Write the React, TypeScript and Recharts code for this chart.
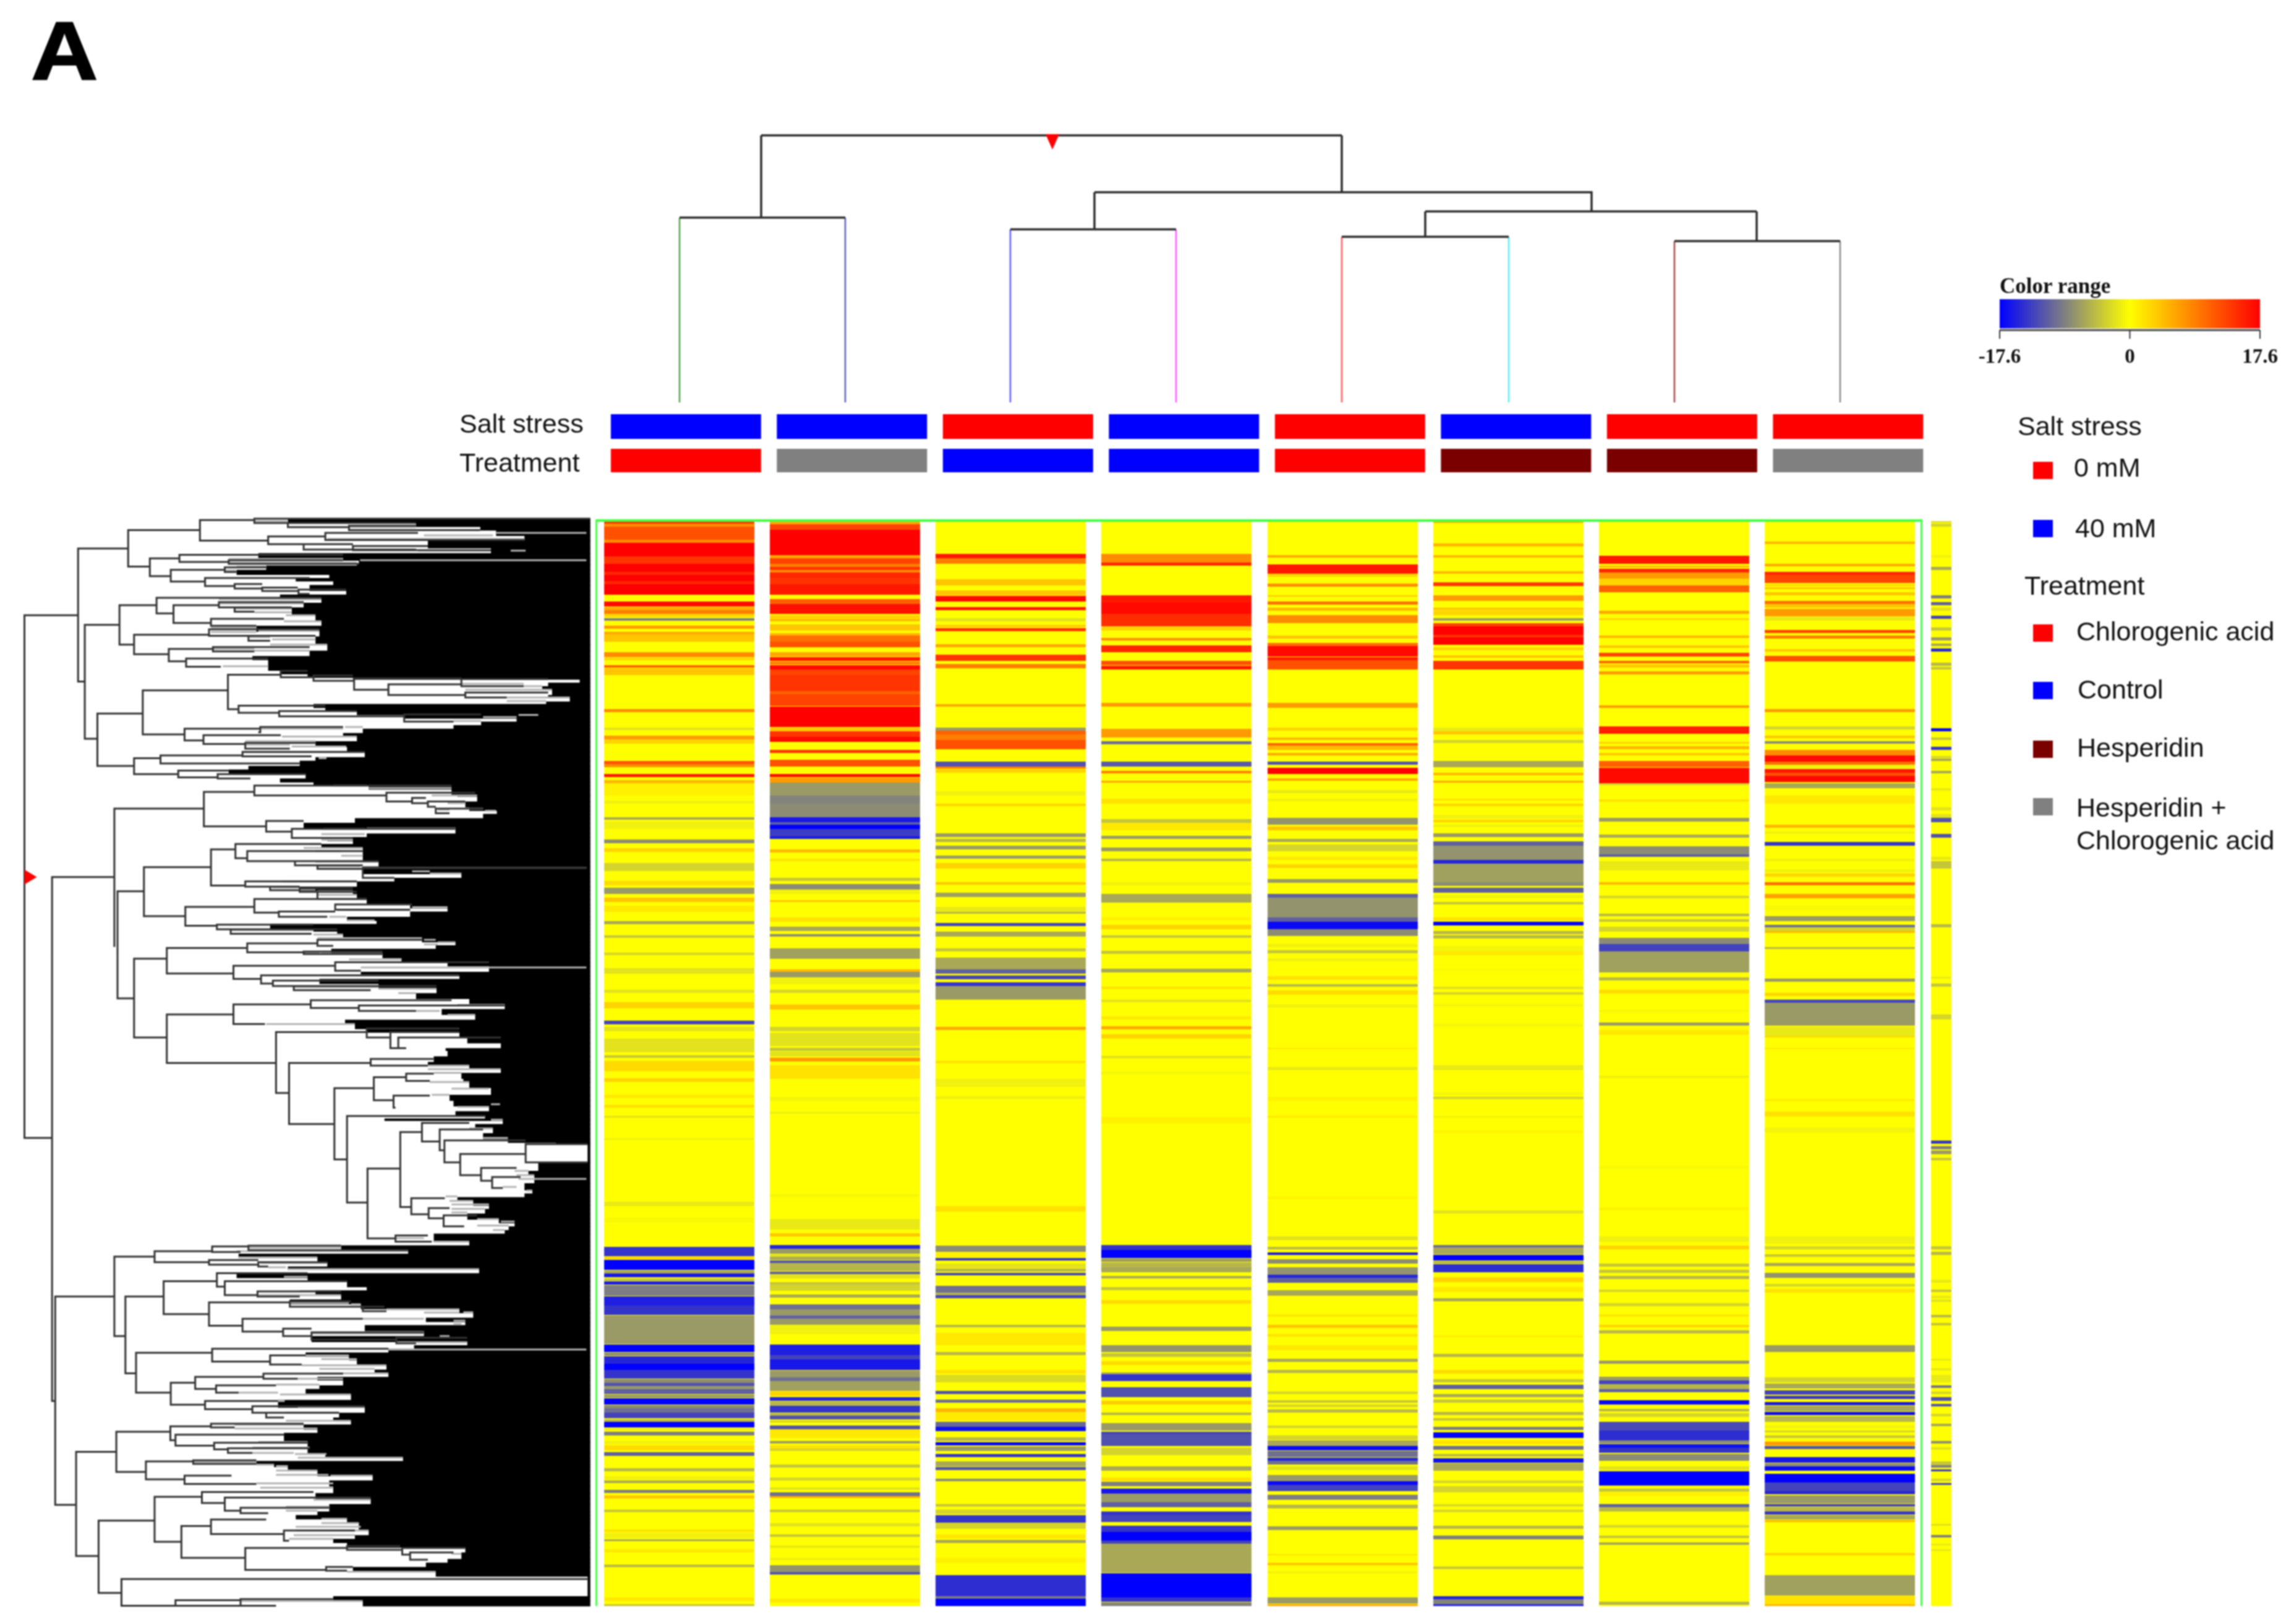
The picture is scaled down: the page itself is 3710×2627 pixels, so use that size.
import React from "react";
import { Bar, BarChart, Cell, ComposedChart, Line, LineChart, ReferenceArea, XAxis, YAxis } from "recharts";

type Band = number[];

// ---------- samples and annotation ----------
const samples = ["S1", "S2", "S3", "S4", "S5", "S6", "S7", "S8"];
const saltStress = ["40 mM", "40 mM", "0 mM", "40 mM", "0 mM", "40 mM", "0 mM", "0 mM"];
const treatment = ["Chlorogenic acid", "Hesperidin + Chlorogenic acid", "Control", "Control", "Chlorogenic acid", "Hesperidin", "Hesperidin", "Hesperidin + Chlorogenic acid"];
const saltLevels = ["0 mM", "40 mM"];
const treatmentLevels = ["Chlorogenic acid", "Control", "Hesperidin", "Hesperidin + Chlorogenic acid"];
const levelColor: Record<string, string> = { "0 mM": "#ff0000", "40 mM": "#0000ff", "Chlorogenic acid": "#ff0000", Control: "#0000ff", Hesperidin: "#7a0000", "Hesperidin + Chlorogenic acid": "#808080" };
const colorTicks = [-17.6, 0, 17.6];
const colorStops: [number, number[]][] = [[-17.6, [0, 0, 255]], [-8.8, [128, 128, 128]], [0, [255, 255, 0]], [17.6, [255, 0, 0]]];

// ---------- heat map bands: [first row, last row, value]; rows read per picture section ----------
const c1Top = [[68,82,14],[82,95,8],[95,160,12],[160,175,8],[175,240,17.6],[240,275,14],[275,315,17.6],[315,330,15],[330,360,17.6],[360,375,15],[375,425,17.6],[458,482,17],[485,500,6],[500,520,9],[520,535,3],[540,553,-9],[575,590,7],[605,618,6],[618,655,4],[705,728,8],[733,745,3],[768,780,11],[782,815,4],[980,995,8],[1072,1084,-2],[1110,1128,7],[1128,1148,3],[1232,1248,12],[1248,1264,8],[1295,1312,16],[1325,1340,5],[1340,1400,1],[1425,1440,-1]];
const c2Top = [[68,85,6],[85,112,13],[112,235,17.6],[235,250,6],[250,275,13],[275,290,9],[290,305,14],[305,318,8],[318,345,15],[345,375,14],[375,425,16],[448,470,11],[470,518,16.5],[525,545,3],[545,555,5],[570,600,4],[612,625,5],[625,655,10],[655,682,12],[705,725,6],[730,748,16],[750,765,9],[768,790,17],[790,815,13],[815,895,14],[895,910,11],[910,965,13],[968,1068,17.6],[1072,1090,4],[1090,1115,14],[1115,1140,17],[1178,1195,14],[1228,1260,12],[1295,1310,17],[1315,1338,7],[1338,1400,-7],[1400,1440,-8.5]];
const c3Top = [[228,248,16],[248,275,9],[350,382,4],[405,430,4],[432,458,17],[485,502,16],[540,555,-2],[572,582,4],[588,602,14],[665,682,6],[718,748,14],[762,782,9],[958,970,6],[1072,1085,-7],[1085,1105,11],[1105,1130,9],[1130,1175,12],[1235,1260,-12],[1260,1270,9],[1270,1290,3],[1380,1400,-1]];
const c4Top = [[228,270,8],[270,285,15],[428,465,16],[465,520,17],[520,578,14.5],[580,600,3],[635,648,8],[672,705,15],[748,768,12],[772,788,16],[950,968,7],[1078,1118,7],[1138,1152,-10],[1235,1260,-11.5],[1280,1293,9],[1328,1338,6],[1415,1440,2]];
const c5Top = [[235,247,6],[280,325,16],[325,340,3],[372,388,8],[428,436,4],[460,475,10],[490,505,5],[525,565,8],[625,638,4],[660,675,10],[675,725,17],[730,745,16],[745,790,12],[950,975,7],[1072,1085,3],[1118,1130,5],[1145,1158,11],[1158,1180,5],[1195,1207,6],[1235,1252,-12],[1265,1295,17.6],[1318,1330,6],[1375,1390,-1.5],[1415,1428,-1]];
const c6Top = [[69,78,5],[178,192,5],[235,247,5],[312,325,5],[365,385,14],[428,455,7],[490,502,4],[505,525,3],[540,553,-7],[565,580,13],[580,620,17.5],[620,632,14],[632,670,17.6],[680,695,3],[720,732,4],[748,790,14],[1072,1090,-1.5],[1090,1103,4],[1130,1147,-3],[1232,1262,-6],[1290,1303,5],[1328,1338,6],[1415,1425,2]];
const c7Top = [[238,275,16],[285,295,5],[300,318,15],[318,348,7],[348,380,3],[382,415,11],[505,518,6],[540,550,3],[625,637,5],[672,684,4],[708,725,13],[748,760,11],[765,780,4],[798,812,7],[962,976,7],[1065,1100,15.5],[1140,1150,3],[1160,1175,5],[1195,1205,4],[1232,1262,11],[1265,1340,17],[1340,1350,-3],[1420,1432,2]];
const c8Top = [[168,180,5],[275,287,6],[315,330,15],[330,370,13],[375,385,3],[390,400,4],[415,430,4],[455,470,10],[470,490,4],[495,530,7],[535,552,-1.5],[597,612,13],[625,638,9],[690,702,4],[722,750,12],[980,995,7],[1065,1080,-3],[1110,1122,4],[1138,1150,-8],[1180,1205,8],[1205,1235,17],[1235,1250,10],[1250,1270,-1],[1272,1290,16],[1290,1305,12],[1305,1335,17],[1340,1365,-6],[1400,1440,1.5]];
const c9Top = [[69,75,-3],[80,95,-3],[235,247,-1],[290,305,-6],[428,443,-9],[462,476,-11],[490,503,-2],[528,543,-13],[585,600,-4],[632,647,-7],[663,676,-6],[688,703,-15],[757,770,-5],[778,790,-4],[1075,1090,-17],[1118,1130,-4],[1165,1178,-14],[1210,1218,-3],[1222,1233,-6],[1280,1292,-6],[1365,1378,-1.5]];

const c1Mid = [[47,55,-6],[60,85,-1],[122,133,-8],[150,162,3],[200,228,-3],[262,275,2.5],[285,305,-7],[318,332,4],[345,365,1.5],[398,407,-6],[445,453,-4],[503,512,-3],[555,575,-2],[630,640,-2],[670,692,3],[733,747,-13],[755,770,-2],[795,840,-2],[850,860,-4],[870,905,2.5],[928,940,3],[985,995,1.5],[1018,1028,2],[1055,1062,-2],[1130,1138,-1],[1345,1360,-1.5],[1400,1415,-0.5]];
const c2Mid = [[0,45,-8],[45,62,-16],[62,72,-11],[72,85,-17.6],[85,110,-13.5],[110,120,-16],[155,165,5],[185,195,2],[250,262,-4],[272,290,-8],[292,305,-1],[325,332,4],[385,400,2],[415,430,-6],[440,450,-8],[490,525,-6.5],[560,568,5],[568,588,-7],[590,610,-1],[630,640,-3],[680,695,4],[755,770,-3],[775,820,-2],[825,835,-4],[838,855,-2],[860,872,7],[885,930,2],[990,1005,-0.7],[1040,1050,-1],[1320,1330,-0.6],[1405,1440,-1.5],[1452,1462,4]];
const c3Mid = [[0,8,3],[100,112,-7],[120,130,-5],[142,155,-7],[175,187,-7],[200,220,3],[265,273,4],[300,315,-6.5],[350,365,-1.5],[365,373,-5],[403,413,-13],[432,450,-6],[490,500,-4],[520,560,-6],[560,575,-11],[582,593,-13],[603,617,-14],[617,662,-7],[755,765,6],[870,877,2],[930,958,-1],[988,998,-1],[1360,1380,2]];
const c4Mid = [[53,65,-4],[65,90,1.5],[108,120,-7],[148,160,-7],[185,195,-5],[265,275,-1],[305,335,-6],[385,395,1],[410,425,3],[445,453,-4],[498,508,-4],[558,570,-6],[618,628,2],[662,670,-2],[720,730,1.5],[753,763,6],[780,795,3],[852,862,-2],[905,915,-0.6],[1060,1080,1]];
const c5Mid = [[48,72,-7.5],[78,90,4],[120,130,-6],[138,160,-3],[180,190,1.5],[205,218,3],[255,268,-7],[305,317,-11],[317,385,-7.5],[385,400,-11],[400,425,-17],[425,448,-8],[475,485,-1],[495,505,-4],[523,532,-1],[583,595,2],[610,618,-5],[632,645,2.5],[680,690,-1],[825,830,1.5],[890,900,-1.5],[990,1005,0.8],[1055,1062,1.5],[1330,1335,1]];
const c6Mid = [[0,8,3],[38,50,-1],[55,62,3],[72,80,-1],[100,112,-7],[128,142,-11],[142,190,-7.5],[190,203,-15],[203,265,-6.5],[265,278,-8],[285,300,-11],[310,320,-1],[332,340,-4],[385,395,2],[400,412,-17.6],[430,440,-5],[445,455,-5],[480,500,-0.7],[500,512,1.5],[560,565,-0.5],[618,626,-2],[638,645,-3],[678,686,-0.7],[745,755,-0.6],[885,900,-1.5],[975,985,-0.7],[990,1000,-3],[1055,1062,-0.8],[1105,1112,1],[1375,1385,-2]];
const c7Mid = [[48,60,-7],[105,115,-6],[145,172,-8],[172,180,-11],[195,225,-1.5],[265,273,5],[312,320,-3],[372,380,-5],[390,400,-4],[415,433,-3],[453,475,-8],[475,500,-13],[500,570,-6.5],[588,598,-5],[630,642,2.5],[698,705,-0.7],[740,750,-7],[765,782,1.5],[920,928,-1],[1225,1235,-0.4],[1365,1375,0.8]];
const c8Mid = [[72,82,5],[95,102,-1],[130,143,-14],[185,195,-1],[222,232,-1],[236,246,3],[265,275,10],[305,320,6.5],[345,360,-0.5],[380,397,-7],[410,418,-10],[418,430,-3],[430,436,5],[485,492,-5],[592,602,-7],[640,650,3],[663,672,-13],[672,750,-7],[755,785,-1.5],[785,790,3],[825,830,1.5],[1000,1005,1.5],[1040,1058,2],[1095,1112,-0.8]];
const c9Mid = [[12,22,-2],[35,48,-2],[48,62,-12],[102,115,-12],[180,190,-1.5],[195,220,-4],[408,418,-5],[585,592,-1.5],[608,618,-4],[712,730,-3],[1140,1150,-14],[1158,1168,-9],[1172,1185,-7],[1198,1206,-4]];

const c1Low = [[42,80,-14],[82,92,3],[95,135,-17.6],[138,150,-6],[150,165,-16],[170,183,-4],[183,195,-16],[197,240,-9],[243,280,-15.5],[280,318,-14],[320,435,-7],[438,468,-17.6],[470,483,-8],[485,515,-15],[515,540,-17.6],[540,575,-14],[578,592,-8],[592,605,-12],[605,617,-7],[617,638,-11],[640,652,-7],[655,680,-17.6],[682,695,-8],[695,712,-10],[712,735,-13],[740,750,-5],[750,772,-17.6],[778,785,-1],[790,805,-9],[828,840,-1],[845,865,2.5],[873,888,-11],[938,950,-5],[970,985,-1],[988,998,-6],[1025,1038,-9],[1048,1060,4],[1105,1115,-4],[1185,1195,2],[1200,1220,-1],[1225,1233,-6],[1265,1278,1.5],[1328,1338,-5],[1460,1475,1.5],[1487,1495,-4]];
const c2Low = [[35,50,-15],[50,70,-7],[72,82,-2],[82,95,-6],[97,108,-12],[108,140,-5],[143,153,-11],[153,170,-2],[185,195,-4],[195,220,-3],[235,247,-6],[275,295,-10],[295,320,-7],[320,332,-11],[332,358,-7],[360,395,-1],[438,480,-15.5],[480,498,-13],[498,540,-16],[543,570,-7],[570,585,-10],[585,625,-6.5],[628,645,3],[650,665,-15],[668,685,-5],[685,712,-14],[715,725,-5],[725,740,-12],[745,752,-3],[765,780,-12],[780,815,1.5],[828,838,-7],[845,857,2],[858,868,-3],[922,935,-4],[975,988,-3],[1015,1025,-2],[1035,1050,-10],[1050,1058,6],[1105,1115,-4],[1160,1172,-2],[1205,1215,-4],[1250,1260,-1.5],[1300,1310,-1],[1330,1358,-7.5],[1358,1368,-12],[1465,1480,1.5]];
const c3Low = [[38,62,-8],[65,85,1],[88,98,-14],[110,128,-2],[130,143,-5],[148,157,-13],[200,228,-10],[228,238,-5],[238,250,-13],[358,368,-5],[390,440,1.5],[468,480,-5],[540,555,2],[560,590,-2.5],[625,638,-12],[660,672,-10],[695,710,5],[710,745,1.5],[750,770,-10.5],[770,787,-16.5],[812,828,-5],[832,846,-17.6],[850,868,-7],[880,892,-14],[910,930,-6],[933,945,-12],[980,990,-8],[1082,1092,-4],[1105,1122,-3],[1128,1158,-14],[1158,1182,-3],[1205,1222,1.5],[1228,1240,-6],[1300,1320,1],[1370,1455,-14.5],[1455,1465,-9],[1465,1495,-17.6]];
const c4Low = [[35,55,-14],[55,88,-17.6],[90,102,-7],[105,125,-5],[125,145,-6],[160,170,-6],[205,218,-4],[258,272,2.5],[365,382,-7],[440,468,-7.5],[472,488,-4],[505,520,2.5],[550,558,-6],[558,585,-14],[610,650,-12],[665,680,3.5],[712,722,-5],[755,785,-7],[790,800,-13],[800,848,-12],[855,885,-3],[930,948,-6],[975,990,2],[993,1010,-9],[1020,1040,-16],[1040,1075,-7],[1075,1095,-11],[1112,1128,-14],[1128,1155,-13],[1170,1195,-14],[1195,1230,-17.6],[1230,1243,-13],[1243,1360,-6],[1362,1460,-17.6],[1460,1478,-14],[1480,1495,-8.5]];
const c5Low = [[0,15,-2],[42,52,-5],[65,75,-16],[92,110,-8],[125,155,-7.5],[155,168,-15],[168,187,-11],[217,240,-6],[315,325,1.5],[358,370,4],[395,405,2],[440,460,1.5],[495,508,-6],[540,552,-5],[628,638,-3],[662,672,-4],[680,690,-3],[700,712,-5],[765,776,-3],[805,822,-3],[825,848,-6],[848,865,-17],[868,893,-10],[895,908,-15],[908,922,-10],[930,945,-2],[965,990,-7],[990,1004,-17],[1004,1030,-13],[1045,1065,-9],[1085,1100,-5],[1172,1187,-7],[1285,1290,2],[1320,1330,4],[1355,1362,-1],[1460,1485,-7],[1488,1495,6]];
const c6Low = [[35,45,-10],[45,72,-6],[75,97,-17.6],[100,110,-5],[113,145,-14.5],[165,185,3],[205,225,1.5],[250,263,-6],[400,410,1],[475,487,-5],[540,555,2.5],[578,590,-4],[600,617,-11],[637,650,-6],[660,672,-4],[710,722,-5],[735,745,-4],[770,782,-9],[792,815,-17.5],[825,840,2],[848,862,-10],[880,890,-5],[897,915,-16.5],[918,948,-6],[988,998,-3],[1010,1035,-3],[1082,1092,-2.5],[1105,1115,-3],[1170,1182,-5],[1210,1224,-9],[1335,1345,-4],[1455,1468,-15],[1468,1488,-8.5],[1488,1495,-15]];
const c7Low = [[0,22,-1],[38,52,3],[110,122,-4],[135,147,-4],[160,172,-5],[215,225,-3],[270,282,-3],[315,325,1.5],[358,368,3],[380,392,-5],[502,516,-7],[568,582,-7],[582,597,-13],[597,617,-5],[617,630,-11],[663,680,-17],[697,708,-5],[715,730,-3],[750,785,-12.5],[785,825,-14.5],[825,838,-8],[840,855,-16.5],[855,875,-14],[880,908,-8],[930,945,-2],[950,1008,-17.6],[1020,1033,-4],[1035,1050,1],[1083,1095,-11],[1095,1112,-5],[1168,1178,-3],[1210,1220,-4],[1237,1247,-6],[1478,1490,-5]];
const c8Low = [[0,30,-1],[40,52,-3],[72,82,-4],[107,120,-6],[148,168,-7.5],[192,202,-3],[212,228,2],[440,467,-7],[570,590,-3],[595,615,-6],[622,640,-13],[645,658,-14],[670,682,-16],[685,707,-6],[710,722,-17],[728,750,-5],[765,775,-1],[785,792,-3],[805,815,-4],[830,845,7],[848,860,-12],[892,915,-16],[918,930,-8],[930,947,-17],[960,995,-17.6],[995,1030,-13],[1030,1043,-15],[1047,1080,-7],[1082,1093,-13],[1095,1112,-5],[1113,1125,-14],[1127,1145,-6],[1148,1155,5],[1280,1290,3],[1370,1452,-6.5],[1455,1488,2],[1488,1495,5]];
const c9Low = [[40,52,-4],[63,75,-5],[175,187,-1.5],[215,225,-4],[240,250,-1.5],[255,265,-2],[318,328,-5],[350,360,-4],[495,503,-1.5],[533,543,-1.5],[560,590,-1.5],[603,613,-10],[628,638,-3],[650,664,-12],[677,687,-12],[718,728,-3],[757,767,-6],[828,838,-8],[852,862,-2],[910,925,-4],[925,935,-9],[942,950,-14],[980,990,-3],[997,1005,-13],[1163,1170,-2],[1208,1218,-9],[1242,1250,-1.5],[1265,1273,-1.5]];

// ---------- column dendrogram: [stem, top, bottom, left end, right end] ----------
const colLinks = [[1231,219,352,1099,1367],[1770,311,371,1634,1902],[2305,342,383,2170,2440],[2841,342,390,2708,2976]];
const colTop = [[1231,219],[2170,219]];
const colSpan = [[2170,219,311],[1770,311,311],[2574,311,342],[2305,342,342],[2841,342,342]];
const colLeaves: [number, number, string][] = [[1099,352,"#4f9f4f"],[1367,352,"#5c5cc0"],[1634,371,"#5c5cff"],[1902,371,"#ff55ff"],[2170,383,"#ff5c5c"],[2440,383,"#55eeee"],[2708,390,"#a54545"],[2976,390,"#8a8a8a"]];

// ---------- row dendrogram, upper and lower part: [stem, top, bottom, top end, bottom end] ----------
const rowTreeA = [[62,340,1568,198,62],[132,1078,1568,290,132],[198,152,527,325,215],[325,100,203,507,380],[507,72,130,645,680],[645,68,80,1497,730],[730,80,92,1055,885],[885,88,100,1055,1218],[680,118,140,825,770],[825,108,128,1060,1330],[770,140,155,895,1055],[895,145,157,1085,1245],[380,180,230,455,433],[455,170,190,870,580],[580,185,195,870,910],[433,212,245,570,520],[570,205,218,675,600],[520,235,258,785,595],[595,252,265,665,665],[665,262,272,755,757],[757,268,280,878,785],[215,367,688,303,247],[303,312,423,397,340],[397,291,335,815,440],[440,312,362,555,535],[555,303,318,770,595],[595,318,330,740,645],[535,350,370,720,650],[340,395,450,530,428],[530,380,398,810,630],[630,398,412,800,685],[428,435,470,540,472],[540,430,442,785,645],[472,462,485,680,560],[247,617,765,362,340],[362,552,676,578,468],[578,508,605,712,605],[712,497,515,780,795],[795,510,525,895,898],[898,518,550,1170,985],[1170,520,540,1390,1328],[985,535,565,1170,1180],[1180,558,572,1390,1285],[605,595,615,825,708],[708,610,625,905,1025],[1025,620,640,1220,1150],[468,660,693,660,516],[660,655,670,870,655],[516,678,703,712,622],[622,700,716,800,735],[340,743,788,407,452],[407,735,758,615,760],[615,725,738,925,790],[452,778,797,580,552],[552,788,800,775,635],[290,885,1275,517,290],[298,1118,1420,365,340],[517,838,935,645,675],[645,820,848,1145,980],[980,840,865,1205,1045],[1045,855,870,1080,1085],[1085,865,880,1180,1105],[1105,885,898,1225,1140],[675,920,950,770,740],[740,942,968,1155,895],[365,1050,1188,535,470],[535,1000,1102,597,622],[597,985,1025,815,627],[627,1005,1033,920,748],[748,1033,1045,960,805],[805,1045,1055,920,920],[920,1052,1080,1487,1000],[622,1090,1105,905,685],[685,1105,1115,760,760],[760,1110,1120,895,805],[805,1120,1140,905,930],[470,1162,1215,645,550],[645,1140,1178,850,707],[850,1155,1170,1045,1040],[707,1175,1190,850,830],[550,1212,1225,795,585],[585,1225,1238,855,790],[340,1308,1530,423,423],[423,1278,1350,627,592],[627,1265,1290,805,770],[805,1255,1272,1070,845],[770,1288,1295,970,970],[592,1328,1365,850,662],[850,1318,1342,1240,915],[662,1355,1378,1165,692],[692,1370,1385,960,745],[745,1385,1397,1107,940],[423,1465,1568,592,423],[592,1437,1492,788,672],[788,1425,1447,1145,910],[910,1440,1455,1280,1055],[700,1515,1568,930,700],[930,1505,1530,1165,990],[990,1515,1560,1165,1010],[1010,1530,1560,1270,1030]];
const rowTreeB = [[62,0,238,62,132],[132,0,958,132,140],[140,672,1242,290,193],[423,0,33,423,700],[700,0,115,700,733],[733,33,200,940,848],[940,22,40,1100,1085],[848,102,297,948,880],[948,72,135,1030,998],[1030,62,82,1100,1090],[998,122,155,1090,1003],[880,178,415,1230,932],[932,322,513,1015,1003],[1015,222,427,1070,1043],[1070,197,248,1190,1115],[1115,215,272,1225,1127],[1127,245,305,1333,1167],[1333,255,305,1490,1490],[1167,282,340,1333,1220],[1220,320,355,1310,1248],[1248,345,375,1320,1275],[1043,403,447,1128,1087],[1087,430,458,1140,1125],[1125,450,480,1210,1177],[1003,505,522,1085,1095],[290,563,780,392,318],[392,548,578,538,530],[538,535,550,630,610],[630,533,545,865,1035],[530,572,585,655,655],[655,578,590,830,680],[318,672,882,415,345],[415,630,720,550,530],[550,608,645,780,570],[570,630,668,880,653],[653,658,672,865,760],[530,688,752,735,615],[735,685,700,890,920],[920,700,712,975,980],[615,733,768,920,718],[718,760,780,790,790],[790,770,790,1075,1005],[1005,785,800,1185,1055],[345,826,935,538,433],[538,815,850,985,685],[685,833,858,775,765],[433,908,968,495,520],[495,892,925,668,548],[668,883,897,870,755],[548,915,935,700,605],[520,958,980,705,640],[640,972,990,925,675],[675,990,1003,860,720],[193,1097,1382,295,250],[295,1042,1152,432,370],[432,1027,1065,535,445],[535,1020,1030,770,595],[445,1050,1080,720,543],[543,1072,1090,780,578],[578,1087,1100,785,640],[370,1123,1172,490,468],[490,1120,1130,650,650],[468,1162,1185,587,650],[250,1285,1483,392,308],[392,1220,1343,512,460],[512,1207,1237,795,570],[570,1222,1258,940,610],[610,1250,1265,835,680],[460,1300,1387,535,622],[535,1282,1322,675,720],[720,1312,1340,900,733],[622,1360,1420,880,827],[880,1355,1365,1015,1020],[1020,1360,1378,1180,1040],[1040,1372,1392,1150,1085],[827,1412,1422,895,880],[308,1445,1518,1490,445],[445,1503,1518,610,610],[610,1500,1518,845,700]];

// leaves packed together: [y where the band starts, x where the black begins]
const denseEdgeA = [[68,730],[80,1055],[90,1218],[100,1258],[115,1330],[130,1085],[150,1245],[165,655],[178,870],[185,910],[195,905],[200,675],[212,600],[225,835],[235,750],[243,845],[255,785],[270,878],[282,710],[295,815],[305,770],[318,740],[340,800],[355,815],[370,650],[385,810],[400,800],[423,830],[440,785],[455,640],[465,680],[495,710],[505,780],[515,895],[520,1470],[530,1390],[540,1375],[550,1400],[565,1390],[572,1445],[583,1385],[590,795],[600,825],[610,905],[620,1025],[630,1310],[640,1220],[650,1150],[660,920],[672,870],[682,905],[695,800],[710,880],[725,925],[740,800],[750,760],[765,630],[775,580],[785,775],[800,710],[810,795],[820,935],[830,1145],[845,1160],[850,1210],[865,1180],[880,1190],[890,1260],[900,1225],[912,900],[925,770],[940,1155],[955,930],[965,830],[975,895],[985,815],[995,920],[1035,960],[1048,920],[1068,1170],[1080,1000],[1090,905],[1105,760],[1115,895],[1125,905],[1140,930],[1155,1040],[1165,1135],[1175,1040],[1190,880],[1200,955],[1210,685],[1222,795],[1230,855],[1240,870],[1250,1070],[1260,1155],[1270,1105],[1280,840],[1292,970],[1305,1018],[1318,1135],[1328,1240],[1345,915],[1355,1165],[1365,810],[1378,960],[1392,1107],[1405,1055],[1420,1190],[1437,1280],[1450,1120],[1465,1205],[1480,875],[1492,900],[1505,930],[1515,1165],[1530,1185],[1545,1270],[1560,1130],[1568,1130]];
const denseEdgeB = [[0,1135],[15,1100],[30,1085],[40,1190],[50,1270],[60,1170],[75,1175],[85,1190],[100,1245],[120,1140],[135,1150],[150,1240],[165,1155],[175,1230],[185,975],[190,1275],[200,1205],[212,1250],[225,1225],[240,1288],[250,1410],[255,1490],[305,1365],[328,1340],[340,1355],[362,1330],[380,1350],[390,1330],[400,1160],[410,1200],[422,1240],[432,1230],[445,1185],[460,1265],[470,1305],[480,1290],[490,1280],[500,1100],[522,1190],[532,865],[542,1035],[555,605],[565,805],[578,830],[590,730],[597,1215],[608,600],[620,780],[630,880],[645,930],[655,800],[668,865],[680,735],[692,915],[705,1165],[716,1200],[730,1080],[740,1180],[750,925],[765,1075],[780,790],[795,1185],[805,1050],[815,985],[825,775],[835,885],[845,905],[860,980],[872,950],[882,985],[892,805],[900,870],[915,810],[925,775],[940,890],[955,705],[975,925],[990,860],[1003,845],[1012,890],[1022,770],[1035,805],[1045,720],[1070,780],[1100,825],[1113,1022],[1122,650],[1130,695],[1137,730],[1148,805],[1162,945],[1175,835],[1190,845],[1210,800],[1225,940],[1240,835],[1260,805],[1270,750],[1280,880],[1290,910],[1312,935],[1325,900],[1335,845],[1345,880],[1358,1180],[1372,1170],[1390,1135],[1400,1080],[1412,895],[1425,1105],[1437,1490],[1492,845],[1505,920],[1518,730]];

// lighter single leaves inside the dense part: [from, to, y]
const leafLinesA = [[645,730,75],[885,1055,92],[1258,1487,108],[1075,1250,115],[830,1330,125],[1060,1245,158],[1295,1333,158],[580,870,181],[580,905,192],[913,1487,185],[570,600,214],[600,675,203],[555,815,295],[555,770,307],[595,740,322],[645,740,332],[725,800,340],[720,815,357],[655,810,384],[535,650,375],[535,650,387],[630,685,402],[690,800,408],[685,830,423],[540,645,435],[645,785,440],[565,680,484],[1170,1385,520],[1170,1328,533],[1328,1375,540],[1180,1400,550],[1285,1445,572],[1285,1385,582],[1315,1365,621],[1150,1220,638],[1225,1310,627],[875,920,655],[660,870,660],[715,905,682],[622,800,695],[622,735,705],[740,878,710],[615,925,726],[808,828,743],[845,930,820],[935,1145,827],[1095,1210,848],[1135,1180,870],[1190,1225,885],[1230,1258,891],[1110,1140,888],[820,925,942],[930,1155,941],[815,925,957],[815,895,973],[785,815,985],[770,920,996],[800,865,1005],[865,920,1018],[800,960,1035],[805,915,1048],[1045,1090,1062],[1090,1170,1068],[920,1487,1052],[715,905,1090],[690,760,1107],[760,800,1113],[805,895,1118],[805,905,1128],[805,930,1140],[855,1040,1171],[1045,1135,1163],[835,878,1190],[880,950,1200],[585,795,1228],[795,870,1240],[805,1070,1250],[1075,1105,1255],[1110,1155,1262],[1075,1110,1268],[770,810,1290],[815,970,1294],[885,1018,1310],[915,1487,1333],[815,1165,1355],[745,960,1388],[1010,1055,1405],[960,1107,1393],[910,1155,1440],[1160,1280,1438],[1055,1115,1455],[1135,1205,1466],[675,900,1492]];
const leafLinesB = [[1085,1190,40],[1085,1270,50],[1100,1170,60],[1090,1190,85],[1145,1240,103],[1095,1140,120],[1160,1240,153],[1245,1268,146],[1190,1250,212],[1225,1288,238],[1245,1275,188],[1305,1340,328],[1310,1355,340],[1315,1487,350],[1275,1310,372],[1335,1350,382],[1130,1160,398],[1140,1200,410],[1145,1240,420],[1145,1230,432],[1145,1185,442],[1210,1265,460],[1270,1305,467],[1210,1290,478],[1250,1280,490],[1005,1075,512],[1100,1190,522],[630,865,538],[600,1035,548],[605,805,565],[660,830,580],[680,725,592],[730,1215,597],[720,780,618],[720,880,630],[760,800,657],[655,865,668],[735,885,690],[890,915,693],[980,1165,707],[1075,1165,716],[1175,1200,715],[920,1075,733],[1150,1180,738],[1150,1170,747],[790,1075,773],[1115,1140,780],[1005,1185,797],[985,1487,817],[815,905,843],[775,885,833],[765,980,860],[810,950,870],[810,985,882],[755,870,897],[700,810,913],[605,705,935],[710,890,940],[703,722,958],[755,925,975],[725,860,990],[725,890,1012],[595,770,1023],[595,805,1033],[655,780,1070],[640,785,1085],[640,745,1100],[748,828,1103],[755,1022,1113],[490,650,1125],[650,695,1132],[700,730,1136],[700,805,1148],[700,833,1160],[838,945,1162],[650,845,1183],[660,845,1195],[770,795,1222],[795,940,1228],[725,835,1247],[725,805,1258],[815,880,1280],[815,910,1292],[750,915,1302],[750,935,1312],[745,900,1325],[733,845,1335],[1145,1170,1376],[880,1105,1425],[610,920,1505]];

const rootMarkA = [{ x: 62, y: 1078 }];
const rootMarkTop = [{ x: 1702, y: 219 }];

// ---------- helpers ----------
const mix = (v: number) => {
  const c = Math.max(-17.6, Math.min(17.6, v));
  for (let i = 0; i < colorStops.length - 1; i++) {
    const [a, ca] = colorStops[i];
    const [b, cb] = colorStops[i + 1];
    if (c <= b) {
      const t = (c - a) / (b - a);
      return `rgb(${ca.map((p, k) => Math.round(p + (cb[k] - p) * t)).join(",")})`;
    }
  }
  return "rgb(255,0,0)";
};
const rowCount = 1755;
const section = (base: number, per: number, list: Band[]) => list.map(([a, b, v]) => [base + a / per, base + b / per, v]);
const column = (top: Band[], mid: Band[], low: Band[]) => {
  const bands = [...section(-23, 3, top), ...section(457, 2.09, mid), ...section(1157, 2.5, low)].sort((p, q) => p[0] - q[0]);
  const parts: [number, number][] = [];
  let cur = 0;
  for (const [a, b, v] of bands) {
    const s = Math.max(a, cur);
    if (b <= s) continue;
    if (s > cur) parts.push([s - cur, 0]);
    parts.push([b - s, v]);
    cur = b;
  }
  if (cur < rowCount) parts.push([rowCount - cur, 0]);
  return parts;
};
const heatColumns = [
  column(c1Top, c1Mid, c1Low), column(c2Top, c2Mid, c2Low), column(c3Top, c3Mid, c3Low), column(c4Top, c4Mid, c4Low),
  column(c5Top, c5Mid, c5Low), column(c6Top, c6Mid, c6Low), column(c7Top, c7Mid, c7Low), column(c8Top, c8Mid, c8Low),
];
const annotationColumns = [column(c9Top, c9Mid, c9Low)];
const tableOf = (cols: [number, number][][], names: string[]) =>
  cols.map((parts, i) => {
    const row: Record<string, any> = { sample: names[i] };
    parts.forEach(([len], k) => { row[`s${k}`] = len; });
    return row;
  });
const flatten = (tree: number[][]) =>
  tree.flatMap(([x, t, b, xt, xb]) => [{ x: xt, y: t }, { x, y: t }, { x, y: b }, { x: xb, y: b }, { x: xb, y: null as any }]);
const leafPoints = (list: number[][]) => list.flatMap(([a, b, y]) => [{ x: a, y }, { x: b, y }, { x: b, y: null as any }]);

const Abs = ({ l, t, w, h, children, style }: any) => (
  <div style={{ position: "absolute", left: l, top: t, width: w, height: h, ...style }}>{children}</div>
);
const Label = ({ l, c, children, size = 43, font = "'Liberation Sans', Arial, sans-serif", weight = 400 }: any) => (
  <div style={{ position: "absolute", left: l, top: c - size * 0.6, lineHeight: `${size * 1.2}px`, fontSize: size, fontFamily: font, fontWeight: weight, color: "#111", whiteSpace: "nowrap" }}>{children}</div>
);

const HeatChart = ({ cols, names, l, w, gap }: any) => {
  const data = tableOf(cols, names);
  const n = Math.max(...cols.map((c: any[]) => c.length));
  return (
    <Abs l={l} t={843} w={w} h={1755}>
      <BarChart width={w} height={1755} data={data} margin={{ top: 0, right: 0, bottom: 0, left: 0 }} barCategoryGap={gap} barGap={0}>
        <XAxis dataKey="sample" hide />
        <YAxis type="number" hide reversed domain={[0, rowCount]} allowDataOverflow />
        {Array.from({ length: n }, (_, k) => (
          <Bar key={k} dataKey={`s${k}`} stackId="h" isAnimationActive={false} shapeRendering="crispEdges">
            {cols.map((c: any[], i: number) => (
              <Cell key={i} fill={mix(c[k] ? c[k][1] : 0)} />
            ))}
          </Bar>
        ))}
      </BarChart>
    </Abs>
  );
};

const AnnotationRow = ({ levels, t, h }: any) => (
  <Abs l={975} t={t} w={2148} h={h}>
    <BarChart width={2148} height={h} data={samples.map((s) => ({ sample: s, v: 1 }))} margin={{ top: 0, right: 0, bottom: 0, left: 0 }} barCategoryGap={12.85}>
      <XAxis dataKey="sample" hide />
      <YAxis type="number" hide domain={[0, 1]} />
      <Bar dataKey="v" isAnimationActive={false}>
        {levels.map((lv: string, i: number) => <Cell key={i} fill={levelColor[lv]} />)}
      </Bar>
    </BarChart>
  </Abs>
);

const triangle = (dir: "right" | "down") => (p: any) => {
  const { cx, cy, key } = p;
  if (cx == null || cy == null) return <g key={key} />;
  const d = dir === "right"
    ? `M${cx},${cy - 12}L${cx + 20},${cy}L${cx},${cy + 12}Z`
    : `M${cx - 11},${cy - 2}L${cx + 11},${cy - 2}L${cx},${cy + 23}Z`;
  return <path key={key ?? "m"} d={d} fill="#ff0000" />;
};

const RowDendrogram = ({ t, h, edge, tree, leaves, mark }: any) => (
  <Abs l={0} t={t} w={1000} h={h}>
    <LineChart width={1000} height={h} margin={{ top: 0, right: 0, bottom: 0, left: 0 }}>
      <XAxis type="number" dataKey="x" hide domain={[0, 1568]} allowDataOverflow />
      <YAxis type="number" dataKey="y" hide reversed domain={[0, 1568]} allowDataOverflow />
      {edge.map(([y, x]: number[], i: number) =>
        edge[i + 1] ? (
          <ReferenceArea key={i} x1={x} x2={1497} y1={y} y2={Math.min(edge[i + 1][0] + 1.6, 1568)} fill="#000000" fillOpacity={1} stroke="none" />
        ) : null
      )}
      <Line data={leafPoints(leaves)} dataKey="y" stroke="#b4b4b4" strokeWidth={3} dot={false} isAnimationActive={false} connectNulls={false} />
      <Line data={flatten(tree)} dataKey="y" stroke="#333333" strokeWidth={3} dot={false} isAnimationActive={false} connectNulls={false} />
      {mark ? <Line data={mark} dataKey="y" stroke="none" dot={triangle("right")} isAnimationActive={false} /> : null}
    </LineChart>
  </Abs>
);

const ColumnDendrogram = () => {
  const inner = [
    ...colLinks.flatMap(([x, t, b, xl, xr]) => [
      { x, y: t }, { x, y: b }, { x: xl, y: b }, { x: xr, y: b }, { x: xr, y: null as any },
    ]),
    ...colTop.flatMap(([x, y]) => [{ x, y }]),
    { x: 2170, y: null as any },
    ...colSpan.flatMap(([x, a, b]) => [{ x, y: a }, { x, y: b }]),
  ];
  return (
    <Abs l={1000} t={200} w={2100} h={460}>
      <LineChart width={2100} height={460} margin={{ top: 0, right: 0, bottom: 0, left: 0 }}>
        <XAxis type="number" dataKey="x" hide domain={[1000, 3100]} allowDataOverflow />
        <YAxis type="number" dataKey="y" hide reversed domain={[200, 660]} allowDataOverflow />
        {colLeaves.map(([x, y, c], i) => (
          <Line key={i} data={[{ x, y }, { x, y: 651 }]} dataKey="y" stroke={c} strokeWidth={2.5} dot={false} isAnimationActive={false} />
        ))}
        <Line data={inner} dataKey="y" stroke="#2c2c2c" strokeWidth={3.5} dot={false} isAnimationActive={false} connectNulls={false} />
        <Line data={rootMarkTop} dataKey="y" stroke="none" dot={triangle("down")} isAnimationActive={false} />
      </LineChart>
    </Abs>
  );
};

const ColorRange = () => (
  <Abs l={3180} t={484} w={530} h={130}>
    <ComposedChart width={530} height={130} data={[{ x: -17.6, y: 0 }, { x: 17.6, y: 1 }]} margin={{ top: 0, right: 55, bottom: 0, left: 54 }}>
      <defs>
        <linearGradient id="colorRange" x1="0" y1="0" x2="1" y2="0">
          {colorStops.map(([v, c]) => <stop key={v} offset={(v + 17.6) / 35.2} stopColor={`rgb(${c.join(",")})`} />)}
        </linearGradient>
      </defs>
      <XAxis type="number" dataKey="x" domain={[-17.6, 17.6]} ticks={colorTicks} interval={0} height={80} tickSize={14} tickMargin={16} axisLine={{ stroke: "#444", strokeWidth: 3 }} tickLine={{ stroke: "#333", strokeWidth: 2 }} tick={{ fontFamily: "'Liberation Serif', serif", fontSize: 33, fontWeight: 700, fill: "#111" }} />
      <YAxis type="number" dataKey="y" hide domain={[0, 1]} />
      <ReferenceArea x1={-17.6} x2={17.6} y1={0.06} y2={1} fill="url(#colorRange)" fillOpacity={1} stroke="none" />
      <Line dataKey="y" stroke="none" dot={false} isAnimationActive={false} />
    </ComposedChart>
  </Abs>
);

const Swatch = ({ t, color }: any) => <Abs l={3288} t={t} w={32} h={28} style={{ background: color }} />;

export default function App() {
  return (
    <div style={{ position: "absolute", left: 0, top: 0, width: 3710, height: 2627, background: "#fff", overflow: "hidden", filter: "blur(1.2px)" }}>
      <div style={{ position: "absolute", left: 50, top: 8, fontFamily: "'Liberation Sans', Arial, sans-serif", fontWeight: 700, fontSize: 133, lineHeight: "150px", color: "#000", transform: "scaleX(1.13)", transformOrigin: "left center", WebkitTextStroke: "2px #000" }}>A</div>

      <ColumnDendrogram />
      <Label l={743} c={686}>Salt stress</Label>
      <Label l={743} c={749}>Treatment</Label>
      <AnnotationRow levels={saltStress} t={670} h={40} />
      <AnnotationRow levels={treatment} t={726} h={38} />

      <RowDendrogram t={800} h={900} edge={denseEdgeA} tree={rowTreeA} leaves={leafLinesA} mark={rootMarkA} />
      <RowDendrogram t={1700} h={927} edge={denseEdgeB} tree={rowTreeB} leaves={leafLinesB} />

      <HeatChart cols={heatColumns} names={samples} l={964} w={2146} gap={12.5} />
      <Abs l={963} t={840} w={2146} h={1758} style={{ borderTop: "4px solid #44ff44", borderLeft: "3px solid #44ff44", borderRight: "3px solid #44ff44", boxSizing: "border-box" }} />
      <HeatChart cols={annotationColumns} names={["All"]} l={3123} w={33} gap={0} />

      <Label l={3234} c={463} size={35} font="'Liberation Serif', serif" weight={700}>Color range</Label>
      <ColorRange />

      <Label l={3263} c={690}>Salt stress</Label>
      <Swatch t={747} color={levelColor[saltLevels[0]]} />
      <Label l={3354} c={757}>{saltLevels[0]}</Label>
      <Swatch t={841} color={levelColor[saltLevels[1]]} />
      <Label l={3356} c={855}>{saltLevels[1]}</Label>
      <Label l={3274} c={948}>Treatment</Label>
      <Swatch t={1010} color={levelColor[treatmentLevels[0]]} />
      <Label l={3358} c={1022}>{treatmentLevels[0]}</Label>
      <Swatch t={1103} color={levelColor[treatmentLevels[1]]} />
      <Label l={3360} c={1116}>{treatmentLevels[1]}</Label>
      <Swatch t={1198} color={levelColor[treatmentLevels[2]]} />
      <Label l={3359} c={1210}>{treatmentLevels[2]}</Label>
      <Swatch t={1291} color={levelColor[treatmentLevels[3]]} />
      <Label l={3358} c={1307}>Hesperidin +</Label>
      <Label l={3358} c={1360}>Chlorogenic acid</Label>
    </div>
  );
}
